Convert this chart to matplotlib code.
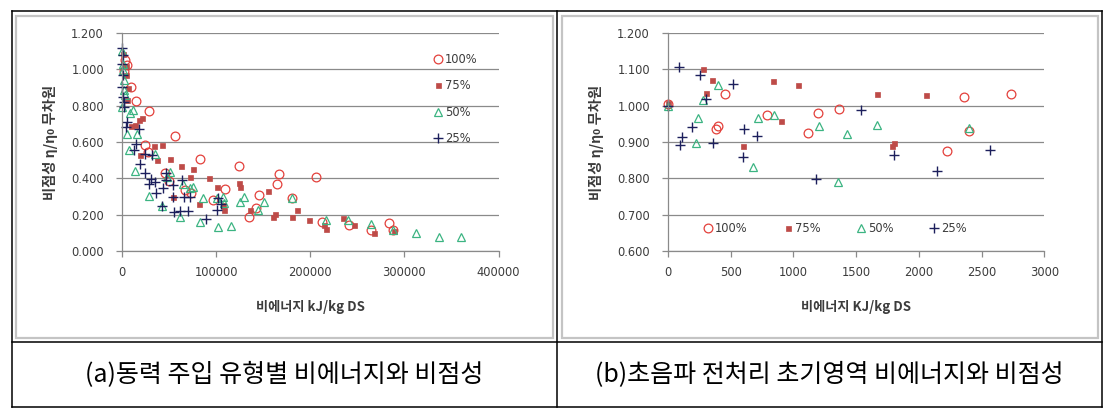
import matplotlib
matplotlib.use("Agg")
import matplotlib.pyplot as plt
from matplotlib.lines import Line2D
from matplotlib.patches import Rectangle
from matplotlib.ticker import FormatStrFormatter

# ---------------- data ----------------
series_labels = ["100%", "75%", "50%", "25%"]

# (a) left panel
a_x100 = [4850, 3460, 2000, 9460, 14800, 28600, 24000, 27200, 56200, 83100, 45300, 49900, 67300, 73300,
          96300, 109100, 124300, 134600, 142400, 145200, 165000, 167200, 181000, 205800, 212600, 240800,
          264500, 284100, 287900]
a_y100 = [1.025, 1.05, 0.99, 0.905, 0.826, 0.773, 0.583, 0.546, 0.635, 0.508, 0.431, 0.385, 0.335, 0.322,
          0.280, 0.344, 0.467, 0.188, 0.237, 0.311, 0.368, 0.425, 0.289, 0.407, 0.160, 0.145,
          0.114, 0.154, 0.114]

a_x75 = [1500, 3760, 3860, 6620, 4900, 9780, 14300, 17690, 21450, 18800, 33500, 37600, 42500, 50800, 53800,
         62800, 72300, 75300, 81700, 92900, 100500, 107600, 108700, 124600, 125700, 136200, 155400, 159900,
         162200, 181000, 186300, 198700, 214900, 216700, 234400, 246500, 267200, 288600]
a_y75 = [1.087, 1.02, 0.970, 0.896, 0.829, 0.688, 0.695, 0.719, 0.734, 0.527, 0.578, 0.499, 0.583, 0.505, 0.297,
         0.470, 0.409, 0.453, 0.257, 0.402, 0.354, 0.255, 0.228, 0.374, 0.354, 0.224, 0.328, 0.189,
         0.206, 0.189, 0.228, 0.169, 0.145, 0.121, 0.183, 0.145, 0.097, 0.110]

a_x50 = [0, 750, 1880, 2630, 0, 1500, 3000, 5640, 7900, 8660, 12000, 16200, 14300, 28200, 34600, 42100, 50800,
         48000, 61700, 64700, 72600, 75300, 82800, 86200, 100500, 102400, 107200, 108700, 115500, 125700,
         129100, 144100, 150500, 180300, 216400, 239700, 264500, 288200, 312700, 336400, 360100]
a_y50 = [1.10, 0.995, 0.941, 0.884, 0.793, 1.03, 0.86, 0.646, 0.554, 0.760, 0.774, 0.646, 0.440, 0.301, 0.536,
         0.246, 0.435, 0.41, 0.187, 0.371, 0.345, 0.352, 0.160, 0.292, 0.294, 0.130, 0.299, 0.262, 0.136,
         0.270, 0.299, 0.224, 0.270, 0.292, 0.172, 0.172, 0.147, 0.116, 0.099, 0.077, 0.077]

a_x25 = [0, 750, 0, 1130, 0, 1130, 1880, 2630, 5640, 3760, 17700, 15000, 13200, 19200, 24500, 24500, 32000,
         28200, 31200, 36500, 35000, 43300, 46300, 47000, 42500, 53800, 54600, 55700, 62100, 64000, 65900,
         69600, 72300, 89600, 100500, 101600, 105700]
a_y25 = [1.115, 1.078, 1.032, 0.968, 0.904, 0.849, 0.822, 0.795, 0.710, 0.684, 0.669, 0.591, 0.554, 0.481,
         0.536, 0.431, 0.527, 0.371, 0.396, 0.319, 0.380, 0.345, 0.391, 0.427, 0.248, 0.363, 0.299, 0.213,
         0.222, 0.391, 0.299, 0.222, 0.299, 0.178, 0.224, 0.292, 0.259]

# (b) right panel
b_x100 = [0, 452, 379, 401, 791, 1116, 1198, 1364, 2223, 2362, 2398, 2735]
b_y100 = [1.005, 1.031, 0.937, 0.943, 0.975, 0.926, 0.981, 0.992, 0.874, 1.025, 0.931, 1.031]

b_x75 = [0, 280, 305, 347, 839, 599, 901, 1037, 1667, 1783, 1805, 2057]
b_y75 = [1.006, 1.100, 1.036, 1.072, 1.067, 0.889, 0.959, 1.058, 1.032, 0.889, 0.896, 1.029]

b_x50 = [0, 280, 401, 243, 223, 715, 842, 678, 1203, 1427, 1353, 1667, 2398]
b_y50 = [0.999, 1.015, 1.057, 0.965, 0.896, 0.965, 0.974, 0.832, 0.944, 0.921, 0.790, 0.948, 0.939]

b_x25 = [0, 90, 254, 299, 192, 110, 96, 356, 520, 602, 599, 712, 1178, 1537, 1805, 2144, 2568]
b_y25 = [1.000, 1.107, 1.085, 1.017, 0.941, 0.915, 0.893, 0.898, 1.061, 0.937, 0.860, 0.917, 0.798,
         0.988, 0.864, 0.819, 0.879]

a_xticks = [0, 100000, 200000, 300000, 400000]
a_yticks = [0.0, 0.2, 0.4, 0.6, 0.8, 1.0, 1.2]
b_xticks = [0, 500, 1000, 1500, 2000, 2500, 3000]
b_yticks = [0.6, 0.7, 0.8, 0.9, 1.0, 1.1, 1.2]

ylabel_text = "비점성 η/η₀ 무차원"
a_xlabel = "비에너지 kJ/kg DS"
b_xlabel = "비에너지 KJ/kg DS"
caption_a = "(a)동력 주입 유형별 비에너지와 비점성"
caption_b = "(b)초음파 전처리 초기영역 비에너지와 비점성"

# ---------------- figure ----------------
W, H = 1111, 418
fig = plt.figure(figsize=(W / 100, H / 100), dpi=100)


def fx(px):
    return px / W


def fy(py):
    return 1 - py / H


# table lines (black)
for (x0, y0, x1, y1) in [(12, 11, 1102, 11), (12, 342, 1102, 342), (12, 407, 1102, 407),
                         (12, 11, 12, 407), (557, 11, 557, 407), (1102, 11, 1102, 407)]:
    fig.add_artist(Line2D([fx(x0), fx(x1)], [fy(y0), fy(y1)], color="black", lw=1.1))

# inner chart boxes (light grey)
for (x0, x1) in [(16, 553), (562, 1098)]:
    fig.add_artist(Rectangle((fx(x0), fy(338)), fx(x1) - fx(x0), fy(16) - fy(338),
                             fill=False, edgecolor="#c4c4c4", lw=1.6))

GRID = "#8a8a8a"
TXT = "#3c3c3c"
FS = 8.3
KFONT = ["Noto Sans CJK KR", "DejaVu Sans"]

styles = [
    dict(marker="o", mfc="none", mec="#e3403b", ms=6.3, mew=0.9),
    dict(marker="s", mfc="#be4b48", mec="#be4b48", ms=3.6, mew=0.5),
    dict(marker="^", mfc="none", mec="#3cb482", ms=6.0, mew=0.9),
    dict(marker="+", mfc="none", mec="#1c1f5c", ms=6.5, mew=1.0),
]


def style_axes(ax, xlim, ylim, xticks, yticks):
    ax.set_xlim(*xlim)
    ax.set_ylim(*ylim)
    ax.set_xticks(xticks)
    ax.set_yticks(yticks)
    ax.yaxis.set_major_formatter(FormatStrFormatter("%.3f"))
    ax.set_xticklabels([str(t) for t in xticks])
    ax.grid(axis="y", color=GRID, lw=0.9)
    ax.set_axisbelow(True)
    for s in ["top", "right"]:
        ax.spines[s].set_visible(False)
    for s in ["left", "bottom"]:
        ax.spines[s].set_color(GRID)
        ax.spines[s].set_linewidth(0.9)
    ax.tick_params(axis="both", direction="out", length=4, width=0.9, color=GRID,
                   labelsize=FS, labelcolor=TXT)
    ax.tick_params(axis="y", pad=9)
    ax.tick_params(axis="x", pad=7)
    ax.patch.set_alpha(0)


# left axes
axL = fig.add_axes([fx(122), fy(251), fx(498.5) - fx(122), fy(33) - fy(251)])
for xs, ys, st, lab in zip([a_x100, a_x75, a_x50, a_x25], [a_y100, a_y75, a_y50, a_y25], styles, series_labels):
    axL.plot(xs, ys, linestyle="none", label=lab, clip_on=False, **st)
style_axes(axL, (0, 400000), (0, 1.2), a_xticks, a_yticks)

# right axes
axR = fig.add_axes([fx(668), fy(251), fx(1044.3) - fx(668), fy(33) - fy(251)])
for xs, ys, st, lab in zip([b_x100, b_x75, b_x50, b_x25], [b_y100, b_y75, b_y50, b_y25], styles, series_labels):
    axR.plot(xs, ys, linestyle="none", label=lab, clip_on=False, **st)
style_axes(axR, (0, 3000), (0.6, 1.2), b_xticks, b_yticks)

# axis labels
for ax, xl, lx in [(axL, a_xlabel, 122), (axR, b_xlabel, 668)]:
    ax.set_xlabel(xl, fontsize=9.5, fontweight="bold", color=TXT, family=KFONT)
    ax.set_ylabel(ylabel_text, fontsize=10.3, fontweight="bold", color=TXT, family=KFONT)
    ax.xaxis.label.set_va("center")
    ax.yaxis.label.set_va("center")
    ax.xaxis.set_label_coords(0.5, -(307 - 251) / 218)
    ax.yaxis.set_label_coords(-(lx - (51 if ax is axL else 596)) / 376.5, 0.5)

# legends
legL = axL.legend(loc="upper left", bbox_to_anchor=(fx(433.4), fy(52.6)), bbox_transform=fig.transFigure,
                  frameon=False, fontsize=FS, borderpad=0, borderaxespad=0, handlelength=0.8,
                  handletextpad=0.2, labelspacing=1.18, labelcolor=TXT)
legR = axR.legend(loc="upper left", bbox_to_anchor=(fx(703.7), fy(221.6)), bbox_transform=fig.transFigure,
                  frameon=False, fontsize=FS, borderpad=0, borderaxespad=0, handlelength=0.8,
                  handletextpad=0.2, ncol=4, columnspacing=3.1, labelcolor=TXT)

# captions
fig.text(fx(284.5), fy(375), caption_a, ha="center", va="center", fontsize=18, color="black",
         family=KFONT)
fig.text(fx(829.5), fy(375), caption_b, ha="center", va="center", fontsize=18, color="black",
         family=KFONT)

fig.savefig("out.png", dpi=100)
